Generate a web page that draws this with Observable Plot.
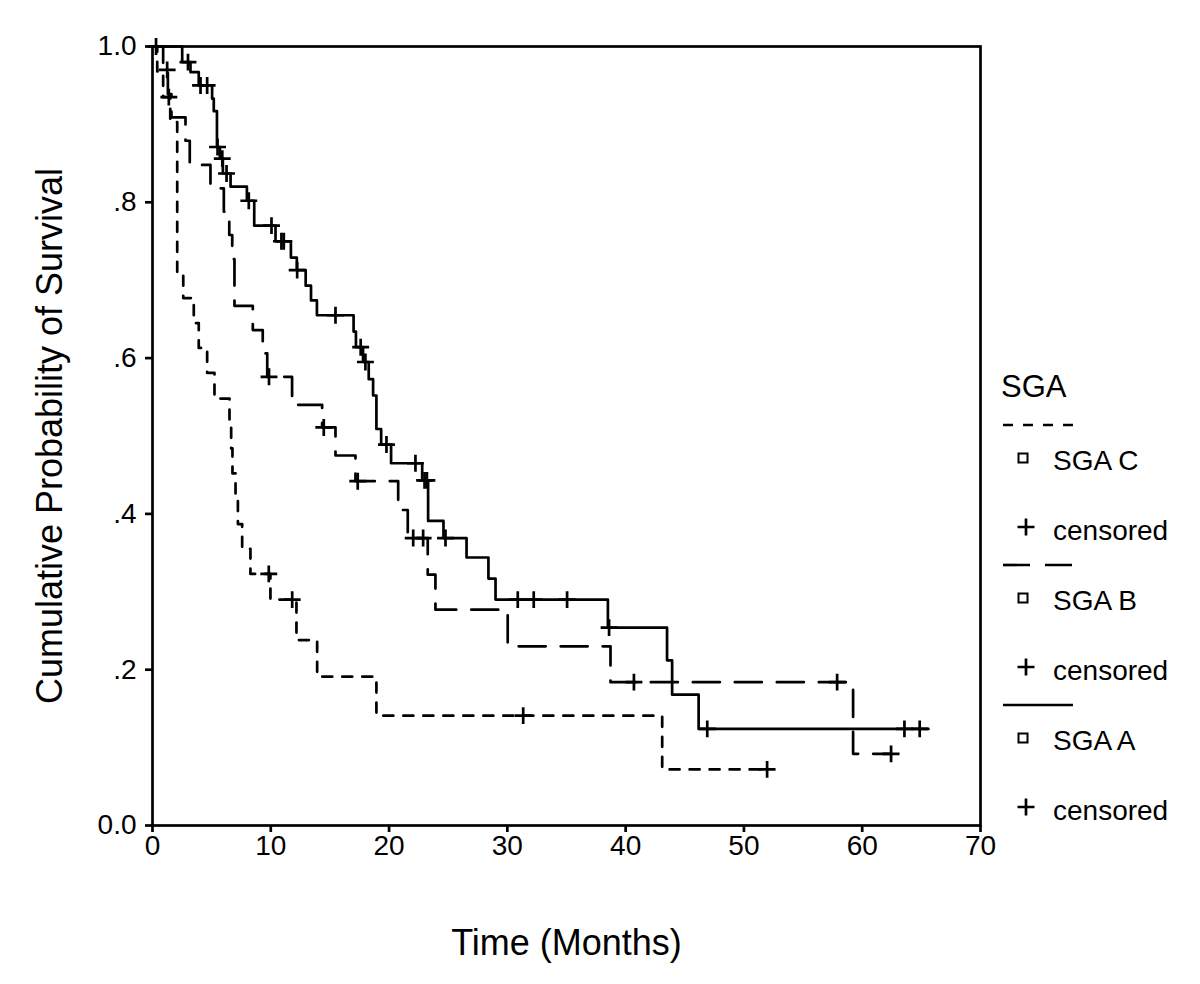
<!DOCTYPE html>
<html><head><meta charset="utf-8">
<script src="https://cdn.jsdelivr.net/npm/d3@7"></script>
<script src="https://cdn.jsdelivr.net/npm/@observablehq/plot@0.6"></script>
<style>
html,body{margin:0;padding:0;background:#fff;}
#wrap{position:relative;width:1200px;height:984px;font-family:"Liberation Sans",Arial,sans-serif;}
#chart{position:absolute;left:0;top:0;width:990px;height:984px;}
#legend{position:absolute;left:990px;top:0;width:210px;height:984px;}
</style></head><body>
<div id="wrap"><div id="chart"></div><div id="legend"></div></div>
<script>
// ---- tick values / labels ----
const xTicks = [0, 10, 20, 30, 40, 50, 60, 70];
const yTicks = [0, 0.2, 0.4, 0.6, 0.8, 1.0];
const yTickLabels = ["0.0", ".2", ".4", ".6", ".8", "1.0"];

// ---- legend categories ----
const groups = ["SGA C", "SGA B", "SGA A"];
const groupDash = ["10,10", "27,15", "none"];

// ---- SGA A (solid) : event times (months) and survival after each event ----
const sgaA_time = [0, 2.51, 3.21, 3.91, 5.04, 5.18, 5.45, 5.70, 5.95, 6.60, 7.98, 8.60, 10.40, 11.70, 12.20, 12.95, 13.40, 13.90, 17.00, 17.20, 17.80, 18.28, 18.65, 18.93, 19.33, 20.17, 22.80, 23.30, 24.60, 26.55, 28.40, 29.00, 38.50, 43.50, 43.93, 46.17];
const sgaA_surv = [1.000, 0.980, 0.967, 0.950, 0.933, 0.917, 0.871, 0.856, 0.837, 0.820, 0.802, 0.770, 0.750, 0.729, 0.713, 0.693, 0.674, 0.655, 0.634, 0.614, 0.595, 0.573, 0.552, 0.509, 0.489, 0.465, 0.443, 0.391, 0.369, 0.344, 0.317, 0.290, 0.254, 0.212, 0.168, 0.124];
const sgaA_end = 65.6;
const sgaA_censored = [0.3, 3.0, 4.06, 4.62, 5.5, 5.9, 6.26, 8.14, 10.06, 10.9, 11.1, 12.23, 15.47, 17.6, 18.0, 19.78, 22.23, 23.0, 23.2, 24.77, 30.88, 32.23, 35.05, 38.6, 46.9, 63.57, 64.86];

// ---- SGA B (long dash) ----
const sgaB_time = [0, 0.9, 1.3, 1.6, 2.79, 3.15, 4.90, 6.03, 6.49, 6.74, 6.93, 8.48, 9.32, 9.70, 11.80, 14.34, 15.47, 17.16, 20.77, 21.58, 23.27, 23.92, 30.03, 38.72, 59.23];
const sgaB_surv = [1.000, 0.970, 0.939, 0.909, 0.879, 0.848, 0.818, 0.788, 0.758, 0.727, 0.667, 0.636, 0.606, 0.576, 0.540, 0.511, 0.475, 0.442, 0.405, 0.369, 0.322, 0.277, 0.230, 0.184, 0.092];
const sgaB_end = 62.44;
const sgaB_censored = [1.24, 9.85, 14.48, 17.35, 22.04, 22.88, 40.7, 57.88, 62.44];

// ---- SGA C (short dash) ----
const sgaC_time = [0, 0.4, 0.9, 1.5, 2.09, 2.60, 3.49, 3.91, 4.62, 5.24, 6.51, 6.65, 6.76, 7.02, 7.22, 7.58, 8.28, 9.97, 12.17, 13.92, 18.93, 43.09];
const sgaC_surv = [1.000, 0.968, 0.935, 0.903, 0.710, 0.677, 0.645, 0.613, 0.581, 0.548, 0.516, 0.484, 0.452, 0.419, 0.387, 0.355, 0.323, 0.290, 0.238, 0.191, 0.141, 0.072];
const sgaC_end = 51.96;
const sgaC_censored = [1.38, 9.83, 11.81, 31.34, 51.96];

// ---- build tables ----
function stepRows(name, time, surv, end) {
  const rows = time.map((t, i) => ({group: name, t, s: surv[i]}));
  rows.push({group: name, t: end, s: surv[surv.length - 1]});
  return rows;
}
function censorRows(name, time, surv, ctimes) {
  return ctimes.map(t => ({group: name, t, s: surv[d3.bisectRight(time, t) - 1]}));
}
const lineA = stepRows("SGA A", sgaA_time, sgaA_surv, sgaA_end);
const lineB = stepRows("SGA B", sgaB_time, sgaB_surv, sgaB_end);
const lineC = stepRows("SGA C", sgaC_time, sgaC_surv, sgaC_end);
const cens = [
  ...censorRows("SGA A", sgaA_time, sgaA_surv, sgaA_censored),
  ...censorRows("SGA B", sgaB_time, sgaB_surv, sgaB_censored),
  ...censorRows("SGA C", sgaC_time, sgaC_surv, sgaC_censored)
];

const FONT = '"Liberation Sans", Arial, sans-serif';
const LW = 2.7;

const chart = Plot.plot({
  width: 990, height: 984,
  marginLeft: 152, marginRight: 10, marginTop: 46, marginBottom: 159,
  style: {fontFamily: FONT, background: "#fff", color: "#000", overflow: "visible"},
  x: {domain: [0, 70]},
  y: {domain: [0, 1]},
  marks: [
    Plot.frame({stroke: "#000", strokeWidth: LW}),
    Plot.axisX({ticks: xTicks, tickSize: 7, tickPadding: 3, fontSize: 28, label: null, strokeWidth: LW}),
    Plot.axisY({ticks: yTicks, tickFormat: d => yTickLabels[yTicks.indexOf(d)], tickSize: 7, tickPadding: 9, fontSize: 28, label: null, strokeWidth: LW}),
    Plot.line(lineC, {x: "t", y: "s", curve: "step-after", stroke: "#000", strokeWidth: LW, strokeDasharray: groupDash[0]}),
    Plot.line(lineB, {x: "t", y: "s", curve: "step-after", stroke: "#000", strokeWidth: LW, strokeDasharray: groupDash[1]}),
    Plot.line(lineA, {x: "t", y: "s", curve: "step-after", stroke: "#000", strokeWidth: LW}),
    Plot.dot(cens, {x: "t", y: "s", symbol: "plus", r: 5.5, stroke: "#000", strokeWidth: LW}),
    Plot.text(["Time (Months)"], {text: d => d, frameAnchor: "bottom", textAnchor: "middle", dy: 118, fontSize: 36, lineAnchor: "middle"}),
    Plot.text(["Cumulative Probability of Survival"], {text: d => d, frameAnchor: "left", textAnchor: "middle", dx: -102, rotate: -90, fontSize: 36, lineAnchor: "middle"})
  ]
});
document.getElementById("chart").appendChild(chart);

// ---- legend (right side) ----
const lg = d3.select("#legend").append("svg")
  .attr("width", 210).attr("height", 984)
  .style("font-family", FONT);
lg.append("text").attr("x", 11).attr("y", 397).attr("font-size", 31).text("SGA");
groups.forEach((g, k) => {
  const off = 140 * k;
  lg.append("line").attr("x1", 13).attr("x2", 83).attr("y1", 425 + off).attr("y2", 425 + off)
    .attr("stroke", "#000").attr("stroke-width", LW)
    .attr("stroke-dasharray", groupDash[k] === "none" ? null : groupDash[k]);
  lg.append("rect").attr("x", 28.5).attr("y", 453.5 + off).attr("width", 9).attr("height", 9)
    .attr("fill", "none").attr("stroke", "#000").attr("stroke-width", 2);
  lg.append("text").attr("x", 63).attr("y", 470 + off).attr("font-size", 28).text(g);
  lg.append("path").attr("d", `M27.5,${527 + off}h17M36,${518.5 + off}v17`)
    .attr("stroke", "#000").attr("stroke-width", LW);
  lg.append("text").attr("x", 63).attr("y", 540 + off).attr("font-size", 28).text("censored");
});
</script>
</body></html>
